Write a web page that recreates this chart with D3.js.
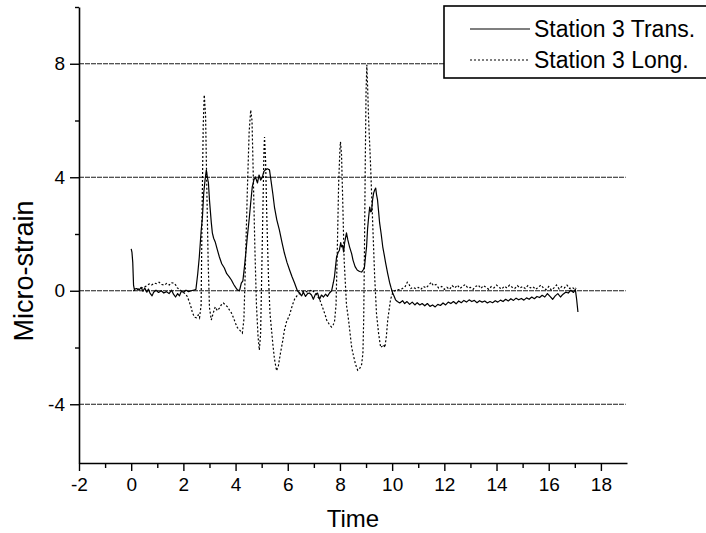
<!DOCTYPE html>
<html>
<head>
<meta charset="utf-8">
<script src="https://cdn.jsdelivr.net/npm/d3@7"></script>
<style>
  html, body { margin: 0; padding: 0; background: #fff; }
  svg { display: block; font-family: "Liberation Sans", Arial, sans-serif; }
</style>
</head>
<body>
<svg id="chart" width="706" height="533"></svg>
<script>
// Strain gauge readings, Station 3: [time, micro-strain]
const transData = [
  [0.0, 1.48], [0.03, 1.35], [0.06, 1.0], [0.09, 0.2], [0.12, 0.05], [0.2, 0.08], [0.3, 0.02],
  [0.38, 0.12], [0.45, -0.02], [0.52, 0.1], [0.6, -0.05], [0.66, 0.06], [0.72, -0.08], [0.8, -0.18],
  [0.86, -0.05], [0.95, 0.02], [1.05, -0.06], [1.15, 0.0], [1.25, -0.08], [1.35, -0.03], [1.45, -0.1],
  [1.55, 0.02], [1.62, -0.12], [1.7, -0.22], [1.78, -0.1], [1.85, -0.18], [1.92, -0.02], [2.0, -0.05],
  [2.1, 0.02], [2.2, -0.03], [2.3, 0.0], [2.4, 0.02], [2.48, 0.05], [2.55, 0.6], [2.61, 1.19],
  [2.68, 2.1], [2.73, 2.6], [2.78, 3.45], [2.83, 3.9], [2.88, 4.25], [2.92, 4.0], [2.96, 3.8],
  [3.0, 3.2], [3.03, 2.85], [3.07, 2.4], [3.11, 2.04], [3.16, 1.85], [3.22, 1.72], [3.3, 1.45],
  [3.38, 1.19], [3.47, 0.95], [3.57, 0.8], [3.66, 0.6], [3.75, 0.5], [3.84, 0.38], [3.93, 0.22],
  [4.0, 0.12], [4.07, 0.03], [4.15, 0.0], [4.22, 0.27], [4.28, 0.35], [4.34, 0.84], [4.4, 1.4],
  [4.45, 1.9], [4.53, 2.6], [4.58, 3.1], [4.64, 3.66], [4.7, 3.9], [4.76, 4.01], [4.84, 3.8],
  [4.9, 4.08], [4.96, 3.9], [5.03, 4.01], [5.08, 4.2], [5.14, 4.26], [5.22, 4.3], [5.3, 4.26],
  [5.37, 3.8], [5.43, 3.4], [5.49, 2.95], [5.58, 2.5], [5.68, 2.14], [5.78, 1.7], [5.87, 1.33],
  [5.97, 1.0], [6.07, 0.73], [6.16, 0.5], [6.26, 0.27], [6.33, 0.1], [6.37, 0.0], [6.45, -0.08],
  [6.53, -0.18], [6.6, -0.05], [6.68, -0.2], [6.76, -0.1], [6.83, -0.08], [6.91, -0.15], [6.98, -0.3],
  [7.06, -0.12], [7.14, -0.08], [7.22, -0.3], [7.29, -0.15], [7.37, -0.22], [7.45, -0.12], [7.52, -0.2],
  [7.6, -0.08], [7.68, 0.0], [7.75, 0.3], [7.79, 0.5], [7.87, 1.19], [7.93, 1.35], [7.98, 1.43],
  [8.03, 1.7], [8.06, 1.55], [8.1, 1.6], [8.14, 1.37], [8.18, 1.7], [8.25, 2.04], [8.3, 1.8],
  [8.37, 1.54], [8.45, 1.3], [8.5, 1.08], [8.58, 0.85], [8.66, 0.73], [8.75, 0.68], [8.83, 0.66],
  [8.9, 0.75], [8.94, 0.84], [8.99, 1.3], [9.02, 1.55], [9.06, 2.2], [9.1, 2.6], [9.14, 2.95],
  [9.18, 2.78], [9.21, 2.8], [9.25, 3.2], [9.29, 3.44], [9.33, 3.55], [9.37, 3.62], [9.4, 3.4],
  [9.44, 3.2], [9.48, 2.8], [9.52, 2.39], [9.58, 2.0], [9.64, 1.55], [9.7, 1.25], [9.75, 0.98],
  [9.83, 0.6], [9.9, 0.3], [9.96, 0.1], [10.02, -0.08], [10.08, -0.2], [10.13, -0.32], [10.2, -0.38],
  [10.29, -0.43], [10.4, -0.35], [10.48, -0.45], [10.57, -0.38], [10.67, -0.48], [10.77, -0.4],
  [10.87, -0.5], [10.96, -0.42], [11.06, -0.5], [11.15, -0.45], [11.25, -0.53], [11.35, -0.45],
  [11.45, -0.55], [11.55, -0.5], [11.65, -0.57], [11.75, -0.48], [11.85, -0.52], [11.95, -0.43],
  [12.05, -0.5], [12.15, -0.4], [12.25, -0.45], [12.35, -0.38], [12.45, -0.46], [12.55, -0.36],
  [12.65, -0.42], [12.75, -0.34], [12.85, -0.4], [12.95, -0.32], [13.05, -0.38], [13.15, -0.34],
  [13.25, -0.42], [13.35, -0.35], [13.45, -0.4], [13.55, -0.36], [13.65, -0.43], [13.75, -0.38],
  [13.85, -0.42], [13.95, -0.35], [14.05, -0.4], [14.15, -0.33], [14.25, -0.38], [14.35, -0.3],
  [14.45, -0.36], [14.55, -0.28], [14.65, -0.34], [14.75, -0.26], [14.85, -0.32], [14.95, -0.27],
  [15.05, -0.33], [15.15, -0.25], [15.25, -0.3], [15.35, -0.22], [15.45, -0.28], [15.55, -0.2],
  [15.65, -0.24], [15.75, -0.16], [15.85, -0.22], [15.95, -0.1], [16.05, -0.2], [16.15, -0.3],
  [16.25, -0.18], [16.35, -0.1], [16.45, -0.22], [16.55, -0.12], [16.65, -0.05], [16.75, -0.08],
  [16.85, 0.02], [16.95, -0.06], [17.02, 0.05], [17.07, -0.3], [17.12, -0.75]
];

const longData = [
  [0.08, 0.0], [0.2, 0.04], [0.31, 0.07], [0.4, 0.1], [0.5, 0.13], [0.6, 0.18], [0.69, 0.24],
  [0.78, 0.2], [0.88, 0.27], [0.97, 0.25], [1.07, 0.3], [1.17, 0.22], [1.27, 0.2], [1.36, 0.26],
  [1.46, 0.2], [1.55, 0.28], [1.65, 0.27], [1.72, 0.18], [1.77, 0.1], [1.84, 0.05], [1.96, -0.04],
  [2.07, -0.1], [2.15, -0.2], [2.23, -0.4], [2.3, -0.6], [2.34, -0.75], [2.42, -0.93], [2.5, -0.95],
  [2.57, -0.85], [2.62, -0.95], [2.68, -0.5], [2.72, 3.0], [2.76, 5.8], [2.8, 6.9], [2.85, 6.2],
  [2.9, 3.5], [2.95, 1.0], [3.0, -0.6], [3.07, -1.03], [3.14, -0.8], [3.22, -0.57], [3.3, -0.7],
  [3.38, -0.61], [3.45, -0.5], [3.53, -0.43], [3.61, -0.5], [3.69, -0.57], [3.78, -0.7], [3.84, -0.78],
  [3.92, -0.95], [3.99, -1.13], [4.07, -1.3], [4.15, -1.38], [4.22, -1.45], [4.26, -1.49], [4.32, -1.0],
  [4.38, 1.0], [4.45, 3.5], [4.52, 5.6], [4.58, 6.37], [4.63, 6.0], [4.68, 4.0], [4.74, 1.5],
  [4.8, -0.5], [4.86, -1.6], [4.91, -2.09], [4.96, -1.5], [5.0, 0.5], [5.05, 3.0], [5.09, 5.0],
  [5.11, 5.42], [5.15, 4.6], [5.2, 2.5], [5.26, 0.5], [5.32, -0.8], [5.37, -1.3], [5.43, -1.9],
  [5.49, -2.4], [5.57, -2.82], [5.64, -2.65], [5.72, -2.2], [5.8, -1.8], [5.87, -1.4], [5.95, -1.1],
  [6.07, -0.85], [6.18, -0.5], [6.26, -0.3], [6.35, -0.18], [6.45, -0.1], [6.55, -0.05], [6.64, 0.0],
  [6.76, -0.05], [6.91, 0.03], [7.06, -0.08], [7.14, -0.2], [7.22, -0.3], [7.3, -0.5], [7.37, -0.68],
  [7.45, -0.9], [7.49, -1.03], [7.6, -1.2], [7.68, -1.28], [7.74, -1.2], [7.79, -1.1], [7.85, -0.5],
  [7.9, 1.5], [7.95, 3.8], [8.0, 5.0], [8.02, 5.25], [8.06, 4.8], [8.1, 3.4], [8.16, 1.1],
  [8.25, -0.5], [8.33, -1.03], [8.4, -1.6], [8.45, -2.0], [8.52, -2.3], [8.6, -2.6], [8.68, -2.8],
  [8.75, -2.75], [8.83, -2.6], [8.88, -2.2], [8.91, -1.0], [8.94, 1.5], [8.97, 4.5], [9.0, 7.0],
  [9.03, 7.96], [9.06, 7.2], [9.1, 6.0], [9.17, 4.5], [9.25, 2.5], [9.33, 0.5], [9.4, -0.8],
  [9.48, -1.5], [9.56, -2.0], [9.62, -1.95], [9.67, -1.9], [9.72, -2.0], [9.78, -1.6], [9.83, -1.03],
  [9.9, -0.57], [9.94, -0.3], [10.02, -0.08], [10.1, 0.0], [10.2, 0.04], [10.29, 0.03], [10.4, 0.08],
  [10.5, 0.15], [10.58, 0.3], [10.65, 0.22], [10.72, 0.08], [10.8, 0.12], [10.9, 0.08], [11.0, 0.12],
  [11.1, 0.05], [11.2, 0.15], [11.3, 0.1], [11.4, 0.2], [11.5, 0.3], [11.58, 0.18], [11.68, 0.22],
  [11.78, 0.1], [11.9, 0.15], [12.0, 0.05], [12.1, 0.12], [12.2, 0.05], [12.3, 0.18], [12.4, 0.1],
  [12.5, 0.2], [12.6, 0.08], [12.7, 0.15], [12.8, 0.22], [12.9, 0.1], [13.0, 0.12], [13.1, 0.05],
  [13.2, 0.15], [13.3, 0.2], [13.4, 0.08], [13.5, 0.18], [13.6, 0.12], [13.7, 0.05], [13.8, 0.15],
  [13.9, 0.1], [14.0, 0.2], [14.1, 0.12], [14.2, 0.06], [14.3, 0.16], [14.4, 0.1], [14.5, 0.2],
  [14.6, 0.12], [14.7, 0.08], [14.8, 0.18], [14.9, 0.1], [15.0, 0.15], [15.1, 0.08], [15.2, 0.18],
  [15.3, 0.1], [15.4, 0.14], [15.5, 0.05], [15.6, 0.12], [15.7, 0.2], [15.8, 0.1], [15.9, 0.04],
  [16.0, 0.15], [16.1, 0.02], [16.2, 0.1], [16.3, 0.2], [16.4, 0.06], [16.5, 0.15], [16.6, 0.1],
  [16.7, 0.2], [16.8, 0.08], [16.9, 0.12], [17.0, 0.05], [17.05, 0.1]
];

const xMajorTicks = [-2, 0, 2, 4, 6, 8, 10, 12, 14, 16, 18];
const xMinorTicks = [-1, 1, 3, 5, 7, 9, 11, 13, 15, 17];
const yMajorTicks = [-4, 0, 4, 8];
const yMinorTicks = [-2, 2, 6, 10];
const gridValues = [-4, 0, 4, 8];
const seriesNames = ["Station 3 Trans.", "Station 3 Long."];

const svg = d3.select("#chart");
const x = d3.scaleLinear().domain([-2, 19]).range([79, 627]);
const y = d3.scaleLinear().domain([-6.07, 10]).range([463, 7]);

// plain hyphen for negative labels
const tickLabel = d => String(d);

// horizontal grid lines
svg.append("g").selectAll("line").data(gridValues).join("line")
  .attr("x1", x(-2)).attr("x2", x(18.95))
  .attr("y1", d => y(d)).attr("y2", d => y(d))
  .attr("stroke", "#1a1a1a").attr("stroke-width", 1)
  .attr("stroke-dasharray", "5,1");

// series
const line = d3.line().x(d => x(d[0])).y(d => y(d[1]));
svg.append("path").datum(transData)
  .attr("fill", "none").attr("stroke", "#000").attr("stroke-width", 1.2)
  .attr("stroke-linejoin", "round").attr("d", line);
svg.append("path").datum(longData)
  .attr("fill", "none").attr("stroke", "#000").attr("stroke-width", 1.2)
  .attr("stroke-dasharray", "2,2").attr("d", line);

// axes
function styleAxis(g) {
  g.select(".domain").attr("stroke", "#000").attr("stroke-width", 1.6);
  g.selectAll(".tick line").attr("stroke", "#000").attr("stroke-width", 1.4);
  g.selectAll(".tick text").attr("fill", "#000").attr("font-size", 19)
    .attr("font-family", "Liberation Sans, Arial, sans-serif");
}
const xAxis = svg.append("g").attr("transform", `translate(0,${y(-6.07)})`)
  .call(d3.axisBottom(x).tickValues(xMajorTicks).tickSize(8).tickSizeOuter(0).tickPadding(7)
    .tickFormat(tickLabel));
styleAxis(xAxis);
const xMinor = svg.append("g").attr("transform", `translate(0,${y(-6.07)})`)
  .call(d3.axisBottom(x).tickValues(xMinorTicks).tickSize(5).tickSizeOuter(0).tickFormat(""));
styleAxis(xMinor);
xMinor.select(".domain").remove();

const yAxis = svg.append("g").attr("transform", `translate(${x(-2)},0)`)
  .call(d3.axisLeft(y).tickValues(yMajorTicks).tickSize(9).tickSizeOuter(0).tickPadding(5)
    .tickFormat(tickLabel));
styleAxis(yAxis);
const yMinor = svg.append("g").attr("transform", `translate(${x(-2)},0)`)
  .call(d3.axisLeft(y).tickValues(yMinorTicks).tickSize(4).tickSizeOuter(0).tickFormat(""));
styleAxis(yMinor);
yMinor.select(".domain").remove();

// axis titles
svg.append("text").attr("x", (x(-2) + x(19)) / 2).attr("y", 527)
  .attr("text-anchor", "middle").attr("font-size", 24).text("Time");
svg.append("text").attr("transform", `translate(33,${y(0.7)}) rotate(-90)`)
  .attr("text-anchor", "middle").attr("font-size", 27).text("Micro-strain");

// legend
const legend = svg.append("g");
legend.append("rect").attr("x", 444).attr("y", 6).attr("width", 270).attr("height", 72)
  .attr("fill", "#fff").attr("stroke", "#000").attr("stroke-width", 1.6);
const legendRows = [{ name: seriesNames[0], dash: null, yy: 29 }, { name: seriesNames[1], dash: "2,2", yy: 60 }];
legendRows.forEach(r => {
  legend.append("line").attr("x1", 470).attr("x2", 530).attr("y1", r.yy).attr("y2", r.yy)
    .attr("stroke", "#000").attr("stroke-width", 1.2)
    .attr("stroke-dasharray", r.dash);
  legend.append("text").attr("x", 534).attr("y", r.yy + 8).attr("font-size", 23).text(r.name);
});
</script>
</body>
</html>
